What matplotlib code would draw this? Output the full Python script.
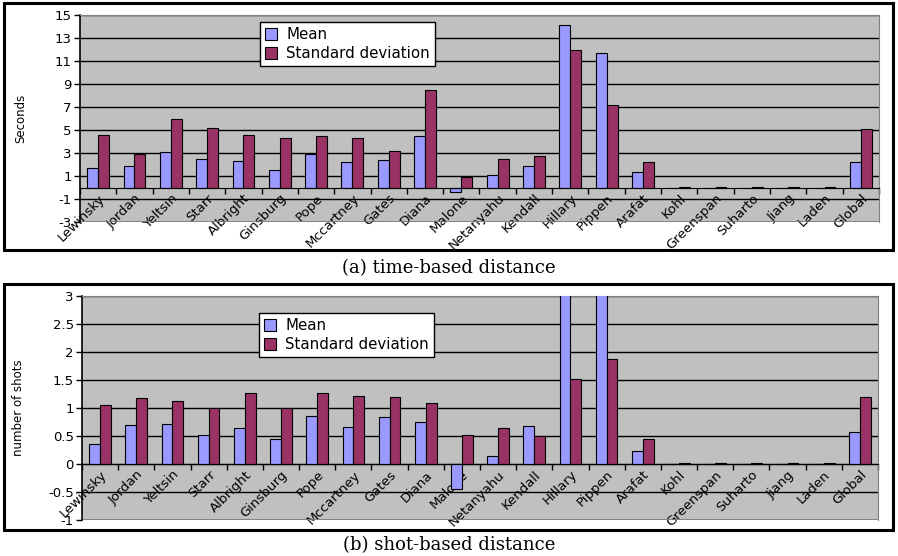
import matplotlib.pyplot as plt
import numpy as np
from matplotlib.patches import Rectangle

names = ["Lewinsky", "Jordan", "Yeltsin", "Starr", "Albright", "Ginsburg", "Pope",
         "Mccartney", "Gates", "Diana", "Malone", "Netanyahu", "Kendall", "Hillary",
         "Pippen", "Arafat", "Kohl", "Greenspan", "Suharto", "Jiang", "Laden", "Global"]

# (a) time-based distance, seconds
time_mean = [1.7, 1.9, 3.1, 2.5, 2.3, 1.5, 2.9, 2.2, 2.4, 4.5, -0.4, 1.05, 1.9,
             14.1, 11.7, 1.35, 0, 0, 0, 0, 0, 2.2]
time_std = [4.6, 2.9, 6.0, 5.2, 4.6, 4.3, 4.5, 4.3, 3.2, 8.5, 0.9, 2.5, 2.7,
            12.0, 7.2, 2.2, 0.08, 0.08, 0.08, 0.08, 0.08, 5.1]

# (b) shot-based distance, number of shots
shot_mean = [0.36, 0.69, 0.71, 0.52, 0.64, 0.44, 0.86, 0.66, 0.84, 0.75, -0.45, 0.15,
             0.68, 3.4, 3.4, 0.24, 0, 0, 0, 0, 0, 0.57]
shot_std = [1.06, 1.18, 1.12, 1.0, 1.26, 1.0, 1.26, 1.21, 1.2, 1.09, 0.51, 0.64,
            0.5, 1.51, 1.88, 0.44, 0.02, 0.02, 0.02, 0.02, 0.02, 1.2]

W, H = 898, 556
fig = plt.figure(figsize=(W / 100, H / 100), dpi=100)
sans = "DejaVu Sans"


def px(x0, y0, x1, y1):
    return [x0 / W, 1 - y1 / H, (x1 - x0) / W, (y1 - y0) / H]


def draw(rect, mean, std, ylim, yticks, ylabel, label_x, leg_xy, caption, caption_y, frame):
    ax = fig.add_axes(px(*rect))
    ax.set_facecolor("#c0c0c0")
    x = np.arange(len(names))
    w = 0.3
    b1 = ax.bar(x - w / 2, mean, w, color="#9999ff", edgecolor="black", linewidth=0.8,
                label="Mean", zorder=3)
    b2 = ax.bar(x + w / 2, std, w, color="#993366", edgecolor="black", linewidth=0.8,
                label="Standard deviation", zorder=3)
    ax.set_xlim(-0.5, len(names) - 0.5)
    ax.set_ylim(*ylim)
    ax.set_yticks(yticks)
    ax.set_yticklabels([f"{t:g}" for t in yticks], fontsize=9.5, family=sans)
    ax.grid(axis="y", color="black", linewidth=1, zorder=1)
    ax.set_axisbelow(True)

    ax.spines["bottom"].set_position(("data", 0))
    ax.spines["bottom"].set_zorder(4)
    for s in ["top", "right"]:
        ax.spines[s].set_color("#808080")
    ax.spines["left"].set_linewidth(1.2)
    ax.set_xticks(x)
    ax.set_xticks(np.arange(len(names) + 1) - 0.5, minor=True)
    ax.tick_params(axis="x", which="major", length=0, pad=3)
    ax.tick_params(axis="x", which="minor", length=4, direction="out", width=1)
    ax.tick_params(axis="y", length=4, width=1, pad=2)
    ax.set_xticklabels(names, rotation=45, ha="right", va="top", rotation_mode="anchor",
                       fontsize=9.5, family=sans)
    ax.axhline(ylim[0], color="#808080", linewidth=1.2, zorder=2)
    ax.set_ylabel(ylabel, fontsize=8.5, family=sans)
    ax.yaxis.set_label_coords(-(rect[0] - label_x) / (rect[2] - rect[0]), 0.5)

    fig.legend(handles=[b1, b2], loc="upper left",
               bbox_to_anchor=(leg_xy[0] / W, 1 - leg_xy[1] / H),
               bbox_transform=fig.transFigure, fancybox=False, framealpha=1,
               edgecolor="black", borderaxespad=0, handlelength=0.8, handleheight=0.8,
               handletextpad=0.6, labelspacing=0.25, borderpad=0.35,
               prop={"family": sans, "size": 10.8})
    fig.patches.append(Rectangle((frame[0] / W, 1 - frame[3] / H),
                                 (frame[2] - frame[0]) / W, (frame[3] - frame[1]) / H,
                                 transform=fig.transFigure, fill=False,
                                 edgecolor="black", linewidth=2.2))
    fig.text(0.5, 1 - caption_y / H, caption, ha="center", va="center",
             family="DejaVu Serif", fontsize=13)
    return ax


draw((80, 15, 879, 222), time_mean, time_std, (-3, 15),
     [15, 13, 11, 9, 7, 5, 3, 1, -1, -3], "Seconds", 27, (260, 22),
     "(a) time-based distance", 268, (4, 3, 893, 250))
draw((82, 296, 878, 520), shot_mean, shot_std, (-1, 3),
     [3, 2.5, 2, 1.5, 1, 0.5, 0, -0.5, -1], "number of shots", 25, (259, 313),
     "(b) shot-based distance", 545, (4, 284, 893, 530))

fig.savefig("out.png", dpi=100)
